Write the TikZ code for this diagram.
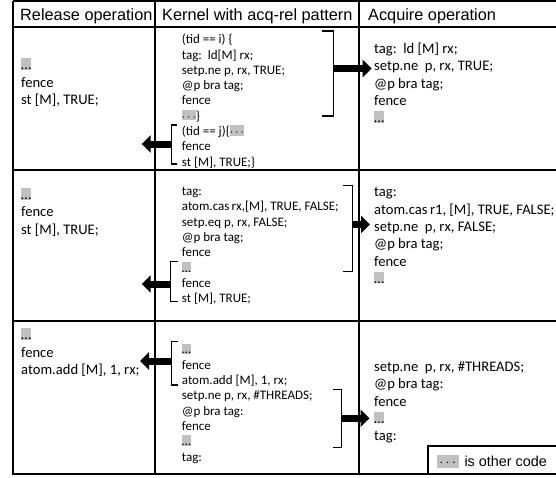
\documentclass[tikz,border=0pt]{standalone}
\usepackage{fontspec}
\setmainfont{Carlito}
\newfontfamily\headfont{Liberation Sans}
\usetikzlibrary{arrows.meta}
\definecolor{ocgray}{HTML}{C0C0C0}
% grey marks for "other code"
\newcommand\oc{{\setlength\fboxsep{0pt}\colorbox{ocgray}{\rule{0pt}{.8em}\ldots}}}
\newcommand\occ{{\setlength\fboxsep{0pt}\colorbox{ocgray}{\rule{0pt}{.8em}$\cdots$}}}
\tikzset{
  grid/.style={line width=2pt},
  head/.style={font=\headfont\fontsize{16.3}{18}\selectfont, anchor=base west, inner sep=0pt},
  side/.style={font=\fontsize{14.6}{17.3}\selectfont, align=left, anchor=north west, inner sep=0pt},
  kern/.style={font=\fontsize{13}{15.3}\selectfont, align=left, anchor=north west, inner sep=0pt},
  brk/.style={line width=1.4pt},
  fat/.style={line width=7pt, -{Triangle[length=9pt,width=17pt]}},
}
\begin{document}
\begin{tikzpicture}[x=1pt, y=-1pt]
  \useasboundingbox (0,0) rectangle (556,477);
  % table
  \draw[grid] (13,1) -- (557,1);
  \draw[grid] (13,1) -- (13,474) -- (557,474);
  \draw[grid] (13,26.5) -- (557,26.5) (13,170) -- (557,170) (13,320.5) -- (557,320.5);
  \draw[grid] (155,1) -- (155,474) (359,1) -- (359,474);
  % headers
  \node[head] (hrel) at (20,20.7) {Release operation};
  \node[head] (hker) at (162,20.7) {Kernel with acq-rel pattern};
  \node[head] (hacq) at (368,20.7) {Acquire operation};
  % release column
  \node[side] (rel1) at (21,58.1) {\oc\\fence\\st [M], TRUE;};
  \node[side] (rel2) at (21,187.6) {\oc\\fence\\st [M], TRUE;};
  \node[side] (rel3) at (21,328) {\oc\\fence\\atom.add [M], 1, rx;};
  % kernel column
  \node[kern] (ker1) at (181.7,34) {(tid == i) \{\\tag:\ \ ld[M] rx;\\setp.ne p, rx, TRUE;\\@p bra tag;\\fence\\\occ\}\\(tid == j)\{\occ\\fence\\st [M], TRUE;\}};
  \node[kern] (ker2) at (181.7,187.2) {tag:\\atom.cas\,rx,[M], TRUE, FALSE;\\setp.eq p, rx, FALSE;\\@p bra tag;\\fence\\\oc\\fence\\st [M], TRUE;};
  \node[kern] (ker3) at (181.7,343.3) {\oc\\fence\\atom.add [M], 1, rx;\\setp.ne p, rx, \#THREADS;\\@p bra tag:\\fence\\\oc\\tag:};
  % acquire column
  \node[side] (acq1) at (374,42.7) {tag:\ \ ld [M] rx;\\setp.ne\ \ p, rx, TRUE;\\@p bra tag;\\fence\\\oc};
  \node[side] (acq2) at (374,187.4) {tag:\\atom.cas\,r1, [M], TRUE, FALSE;\\setp.ne\ \ p, rx, FALSE;\\@p bra tag;\\fence\\\oc};
  \node[side] (acq3) at (374,361.4) {setp.ne\ \ p, rx, \#THREADS;\\@p bra tag:\\fence\\\oc\\tag:};
  % brackets
  \draw[brk] (321.7,31) -- (333.3,31) -- (333.3,116) -- (321.7,116);
  \draw[brk] (176.7,125) -- (171.7,125) -- (171.7,164) -- (176.7,164);
  \draw[brk] (343,185.5) -- (352.5,185.5) -- (352.5,271.7) -- (343,271.7);
  \draw[brk] (178,261.7) -- (170.7,261.7) -- (170.7,301.7) -- (178,301.7);
  \draw[brk] (178,341.7) -- (171.7,341.7) -- (171.7,385) -- (178,385);
  \draw[brk] (333.3,389.3) -- (341.7,389.3) -- (341.7,447.3) -- (333.3,447.3);
  % arrows
  \coordinate (b1) at (333.3,68.5);  \coordinate (t1) at (371.7,68.5);
  \coordinate (b2) at (171.7,144);   \coordinate (t2) at (141.7,144);
  \coordinate (b3) at (352.5,224.5); \coordinate (t3) at (370,224.5);
  \coordinate (b4) at (170.7,284);   \coordinate (t4) at (141.7,284);
  \coordinate (b5) at (171.7,361);   \coordinate (t5) at (140,361);
  \coordinate (b6) at (341.7,418.3); \coordinate (t6) at (369.5,418.3);
  \foreach \i in {1,...,6} \draw[fat] (b\i) -- (t\i);
  % legend
  \draw[grid] (557,445.7) -- (428.3,445.7) -- (428.3,474);
  \node[anchor=base west, inner sep=0pt, font=\headfont\fontsize{14.4}{16}\selectfont] (legend) at (436.7,466.5)
    {{\setlength\fboxsep{0pt}\colorbox{ocgray}{\rule[-1.5pt]{0pt}{13pt}\,$\cdots$\,}}\hspace{6pt}is other code};
\end{tikzpicture}
\end{document}
